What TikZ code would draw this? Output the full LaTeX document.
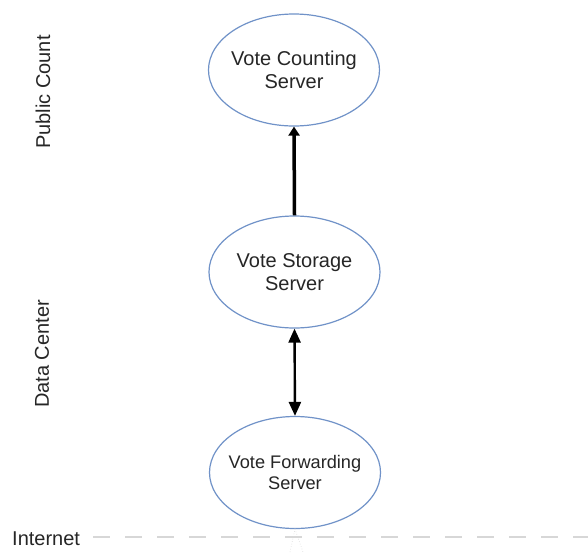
\documentclass[tikz,border=0pt]{standalone}
\usepackage{fontspec}
\setmainfont{Liberation Sans}
\usetikzlibrary{shapes.geometric,arrows.meta}
\definecolor{ellblue}{RGB}{112,146,200}
\definecolor{txtgray}{RGB}{38,38,38}
\definecolor{dashgray}{RGB}{215,215,215}
\begin{document}
\begin{tikzpicture}[x=1pt,y=-1pt,
  server/.style={ellipse,draw=ellblue,line width=1.2pt,minimum width=171pt,minimum height=112pt,
    inner xsep=-25pt,inner ysep=0pt,align=center,text=txtgray,font=\fontsize{20}{22.5}\selectfont},
  sidelabel/.style={rotate=90,text=txtgray,font=\fontsize{20}{24}\selectfont,inner sep=0pt},
  bigarrow/.style={line width=3.5pt,-{Triangle[length=9pt,width=11pt]}},
  duoarrow/.style={line width=2.4pt,{Triangle[length=14pt,width=12pt]}-{Triangle[length=14pt,width=12pt]}}]
\useasboundingbox (0,0) rectangle (588,552);
\fill[white] (0,0) rectangle (588,552);

\node[server] (count) at (294,70) {Vote Counting\\Server};
\node[server] (store) at (294.5,272) {Vote Storage\\Server};
\node[server,font=\fontsize{18.2}{20.5}\selectfont] (fwd) at (295,472.5) {Vote Forwarding\\Server};

\node[sidelabel] (pub) at (43,92) {Public Count};
\node[sidelabel] (dc) at (42,354) {Data Center};
\node[anchor=base west,text=txtgray,font=\fontsize{20}{24}\selectfont,inner sep=0pt] (inet) at (12,545) {Internet};

\coordinate (dashend) at (588,537);
\draw[dashgray,line width=1.8pt,dash pattern=on 17pt off 15pt] (93,537) -- (dashend);

\draw[bigarrow] (store.north) -- (count.south);
\draw[duoarrow] (store.south) -- (fwd.north);

\coordinate (fl) at (290,552);
\coordinate (fr) at (303,552);
\draw[gray!30,dotted,line width=0.6pt] (fl) -- (fwd.south) -- (fr);
\end{tikzpicture}
\end{document}
